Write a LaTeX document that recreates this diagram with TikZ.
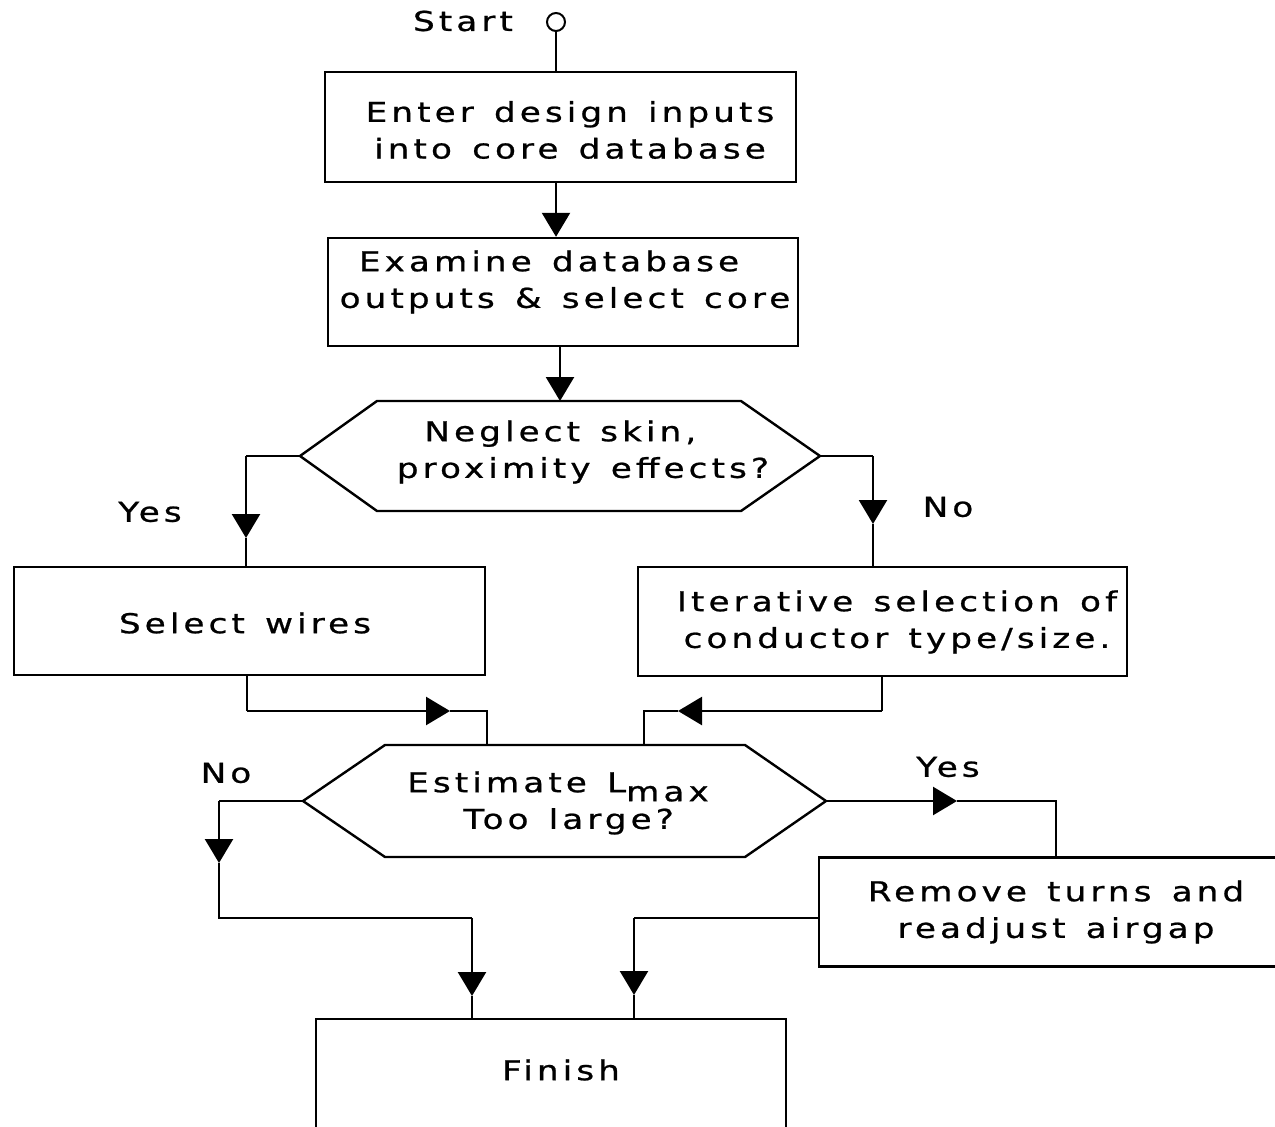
\documentclass[tikz,border=0pt]{standalone}
\usepackage{fontspec}
\setmainfont{DejaVu Sans}[LetterSpace=15,FakeStretch=1.25,WordSpace=1.35,FakeBold=0.8]
\usetikzlibrary{arrows.meta,calc}
\begin{document}
\begin{tikzpicture}[x=0.75pt,y=-0.75pt,
  line width=1.8pt,
  box/.style={draw,line width=1.8pt,inner sep=0pt},
  txt/.style={inner sep=0pt,align=center,font=\fontsize{20.5}{27.5}\selectfont},
  tri/.style={-{Triangle[width=21pt,length=18pt]}}]
\useasboundingbox (0,0) rectangle (1275,1127);
\begin{scope}
\clip (0,0) rectangle (1275,1127);
% start
\node[txt] (startlbl) at (463,21) {Start};
\node[draw,circle,minimum size=13.5pt,inner sep=0pt,line width=1.5pt] (st) at (556,22) {};
% boxes
\node[box,minimum width=353.25pt,minimum height=82.5pt] (b1) at (560.5,127) {};
\node[txt] (t1) at (570,130) {Enter design inputs\\into core database};
\node[box,minimum width=352.5pt,minimum height=81pt] (b2) at (563,292) {};
\node[txt] (t2) at (565,282) {Examine database\hspace*{24pt}\\outputs \& select core};
\node[box,minimum width=353.25pt,minimum height=81pt] (b3) at (249.5,621) {};
\node[txt] (t3) at (245,623) {Select wires};
\node[box,minimum width=366.75pt,minimum height=81.75pt] (b4) at (882.5,621.5) {};
\node[txt] (t4) at (897,622) {Iterative selection of\\conductor type/size.};
\node[box,minimum width=345pt,minimum height=81.75pt] (b5) at (1049,912) {};
\node[txt] (t5) at (1056,912) {Remove turns and\\readjust airgap};
\node[box,minimum width=352.5pt,minimum height=97.5pt] (fin) at (551,1084) {};
\node[txt] (t6) at (561,1070) {Finish};
% hexagon 1
\coordinate (h1w) at (300,456);
\coordinate (h1e) at (820,456);
\coordinate (h1n) at (560,401);
\draw (h1w) -- (377,401) -- (741,401) -- (h1e) -- (741,511) -- (377,511) -- cycle;
\node[txt] (h1) at (583,452) {Neglect skin,\hspace*{34pt}\\proximity effects?};
% hexagon 2
\coordinate (h2w) at (303,801);
\coordinate (h2e) at (826,801);
\draw (h2w) -- (385,745) -- (745,745) -- (h2e) -- (745,857) -- (385,857) -- cycle;
\node[txt] (h2) at (558,803) {Estimate L\raisebox{-0.33em}[0pt][0pt]{max}\\\hspace*{16pt}Too large?};
% labels
\node[txt] (yes1) at (150,512) {Yes};
\node[txt] (no1) at (948,507) {No};
\node[txt] (no2) at (226,773) {No};
\node[txt] (yes2) at (948,767) {Yes};
% connectors
\draw (st.south) -- (st.south |- b1.north);
\draw[tri] (556,182) coordinate (b1s) -- (b1s |- b2.north);
\draw[tri] (560,346) coordinate (b2s) -- (b2s |- h1n);
% yes branch
\coordinate (y1a) at (246,456);
\coordinate (y1t) at (246,538);
\draw (h1w) -- (y1a);
\draw[tri] (y1a) -- (y1t);
\draw (y1t) -- (y1t |- b3.north);
% no branch
\coordinate (n1a) at (873,456);
\coordinate (n1t) at (873,524);
\draw (h1e) -- (n1a);
\draw[tri] (n1a) -- (n1t);
\draw (n1t) -- (n1t |- b4.north);
% merge into hex 2
\coordinate (m1a) at (247,711);
\coordinate (m1t) at (450,711);
\coordinate (m1b) at (487,711);
\draw (m1a |- b3.south) -- (m1a);
\draw[tri] (m1a) -- (m1t);
\draw (m1t) -- (m1b) -- (487,745);
\coordinate (m2a) at (882,711);
\coordinate (m2t) at (678,711);
\coordinate (m2b) at (644,711);
\draw (m2a |- b4.south) -- (m2a);
\draw[tri] (m2a) -- (m2t);
\draw (m2t) -- (m2b) -- (644,745);
% no -> finish
\coordinate (n2a) at (219,801);
\coordinate (n2t) at (219,863);
\coordinate (n2b) at (219,918);
\coordinate (n2c) at (472,918);
\coordinate (n2d) at (472,996);
\draw (h2w) -- (n2a);
\draw[tri] (n2a) -- (n2t);
\draw (n2t) -- (n2b) -- (n2c);
\draw[tri] (n2c) -- (n2d);
\draw (n2d) -- (n2d |- fin.north);
% yes -> remove
\coordinate (y2t) at (957,801);
\coordinate (y2a) at (1056,801);
\draw[tri] (h2e) -- (y2t);
\draw (y2t) -- (y2a) -- (y2a |- b5.north);
% remove -> finish
\coordinate (r1) at (634,918);
\coordinate (r1t) at (634,995);
\draw (b5.west |- r1) -- (r1);
\draw[tri] (r1) -- (r1t);
\draw (r1t) -- (r1t |- fin.north);
\end{scope}
\end{tikzpicture}
\end{document}
